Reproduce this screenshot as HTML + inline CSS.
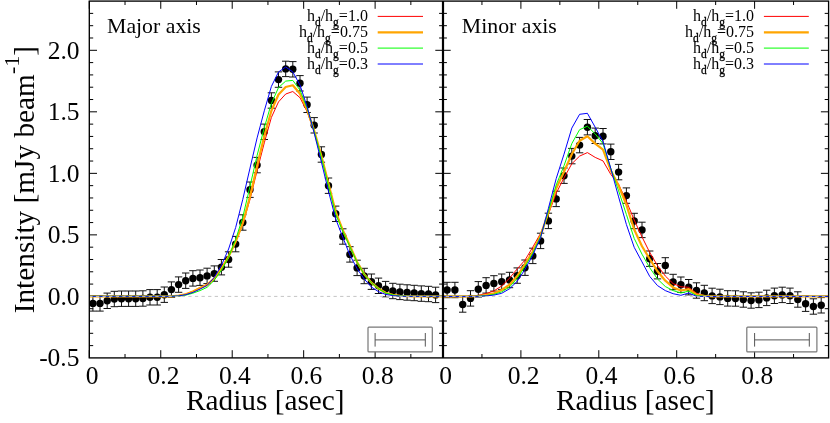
<!DOCTYPE html>
<html><head><meta charset="utf-8"><title>Intensity profiles</title>
<style>
html,body{margin:0;padding:0;background:#fff;}
body{width:830px;height:423px;overflow:hidden;font-family:"Liberation Serif",serif;}
svg{will-change:transform;opacity:0.999;}
svg text{font-family:"Liberation Serif",serif;}
</style></head><body>
<svg width="830" height="423" viewBox="0 0 830 423" style="display:block">
<rect x="0" y="0" width="830" height="423" fill="#ffffff"/>
<path d="M89.3 345.62h3.9M443.0 345.62h-3.9M443.0 345.62h3.9M828.6 345.62h-3.9M89.3 333.31h3.9M443.0 333.31h-3.9M443.0 333.31h3.9M828.6 333.31h-3.9M89.3 321.01h3.9M443.0 321.01h-3.9M443.0 321.01h3.9M828.6 321.01h-3.9M89.3 308.70h3.9M443.0 308.70h-3.9M443.0 308.70h3.9M828.6 308.70h-3.9M89.3 296.40h7.7M443.0 296.40h-7.7M443.0 296.40h7.7M828.6 296.40h-7.7M89.3 284.09h3.9M443.0 284.09h-3.9M443.0 284.09h3.9M828.6 284.09h-3.9M89.3 271.79h3.9M443.0 271.79h-3.9M443.0 271.79h3.9M828.6 271.79h-3.9M89.3 259.48h3.9M443.0 259.48h-3.9M443.0 259.48h3.9M828.6 259.48h-3.9M89.3 247.18h3.9M443.0 247.18h-3.9M443.0 247.18h3.9M828.6 247.18h-3.9M89.3 234.87h7.7M443.0 234.87h-7.7M443.0 234.87h7.7M828.6 234.87h-7.7M89.3 222.57h3.9M443.0 222.57h-3.9M443.0 222.57h3.9M828.6 222.57h-3.9M89.3 210.26h3.9M443.0 210.26h-3.9M443.0 210.26h3.9M828.6 210.26h-3.9M89.3 197.96h3.9M443.0 197.96h-3.9M443.0 197.96h3.9M828.6 197.96h-3.9M89.3 185.65h3.9M443.0 185.65h-3.9M443.0 185.65h3.9M828.6 185.65h-3.9M89.3 173.35h7.7M443.0 173.35h-7.7M443.0 173.35h7.7M828.6 173.35h-7.7M89.3 161.04h3.9M443.0 161.04h-3.9M443.0 161.04h3.9M828.6 161.04h-3.9M89.3 148.74h3.9M443.0 148.74h-3.9M443.0 148.74h3.9M828.6 148.74h-3.9M89.3 136.43h3.9M443.0 136.43h-3.9M443.0 136.43h3.9M828.6 136.43h-3.9M89.3 124.13h3.9M443.0 124.13h-3.9M443.0 124.13h3.9M828.6 124.13h-3.9M89.3 111.82h7.7M443.0 111.82h-7.7M443.0 111.82h7.7M828.6 111.82h-7.7M89.3 99.52h3.9M443.0 99.52h-3.9M443.0 99.52h3.9M828.6 99.52h-3.9M89.3 87.21h3.9M443.0 87.21h-3.9M443.0 87.21h3.9M828.6 87.21h-3.9M89.3 74.91h3.9M443.0 74.91h-3.9M443.0 74.91h3.9M828.6 74.91h-3.9M89.3 62.60h3.9M443.0 62.60h-3.9M443.0 62.60h3.9M828.6 62.60h-3.9M89.3 50.30h7.7M443.0 50.30h-7.7M443.0 50.30h7.7M828.6 50.30h-7.7M89.3 37.99h3.9M443.0 37.99h-3.9M443.0 37.99h3.9M828.6 37.99h-3.9M89.3 25.69h3.9M443.0 25.69h-3.9M443.0 25.69h3.9M828.6 25.69h-3.9M89.3 13.38h3.9M443.0 13.38h-3.9M443.0 13.38h3.9M828.6 13.38h-3.9M89.30 357.9v-7.7M89.30 1.1v7.7M443.00 357.9v-7.7M443.00 1.1v7.7M125.03 357.9v-3.9M125.03 1.1v3.9M481.95 357.9v-3.9M481.95 1.1v3.9M160.75 357.9v-7.7M160.75 1.1v7.7M520.90 357.9v-7.7M520.90 1.1v7.7M196.48 357.9v-3.9M196.48 1.1v3.9M559.85 357.9v-3.9M559.85 1.1v3.9M232.21 357.9v-7.7M232.21 1.1v7.7M598.80 357.9v-7.7M598.80 1.1v7.7M267.94 357.9v-3.9M267.94 1.1v3.9M637.75 357.9v-3.9M637.75 1.1v3.9M303.66 357.9v-7.7M303.66 1.1v7.7M676.70 357.9v-7.7M676.70 1.1v7.7M339.39 357.9v-3.9M339.39 1.1v3.9M715.65 357.9v-3.9M715.65 1.1v3.9M375.12 357.9v-7.7M375.12 1.1v7.7M754.60 357.9v-7.7M754.60 1.1v7.7M410.85 357.9v-3.9M410.85 1.1v3.9M793.55 357.9v-3.9M793.55 1.1v3.9" stroke="#000" stroke-width="1" fill="none"/>
<rect x="368.0" y="327.2" width="64.3" height="24.6" rx="0.9" fill="#fff" stroke="#777" stroke-width="1.2"/>
<path d="M375.1 339.9H425.3M375.1 333V346.6M425.3 333V346.6" stroke="#555" stroke-width="1" fill="none"/>
<rect x="746.8" y="327.2" width="70.1" height="24.6" rx="0.9" fill="#fff" stroke="#777" stroke-width="1.2"/>
<path d="M754.6 339.9H809.3M754.6 333V346.6M809.3 333V346.6" stroke="#555" stroke-width="1" fill="none"/>
<path d="M92.9 295.7V311.1M89.2 295.7h7.4M89.2 311.1h7.4M100.0 295.7V311.1M96.3 295.7h7.4M96.3 311.1h7.4M107.2 293.1V308.5M103.5 293.1h7.4M103.5 308.5h7.4M114.3 291.3V306.7M110.6 291.3h7.4M110.6 306.7h7.4M121.5 291.0V306.4M117.8 291.0h7.4M117.8 306.4h7.4M128.6 291.0V306.4M124.9 291.0h7.4M124.9 306.4h7.4M135.7 291.0V306.4M132.0 291.0h7.4M132.0 306.4h7.4M142.9 290.8V306.2M139.2 290.8h7.4M139.2 306.2h7.4M150.0 289.6V305.0M146.3 289.6h7.4M146.3 305.0h7.4M157.2 289.6V305.0M153.5 289.6h7.4M153.5 305.0h7.4M164.3 287.0V302.4M160.6 287.0h7.4M160.6 302.4h7.4M171.4 281.9V297.3M167.7 281.9h7.4M167.7 297.3h7.4M178.6 276.9V292.3M174.9 276.9h7.4M174.9 292.3h7.4M185.7 273.0V288.4M182.0 273.0h7.4M182.0 288.4h7.4M192.9 270.7V286.1M189.2 270.7h7.4M189.2 286.1h7.4M200.0 270.0V285.4M196.3 270.0h7.4M196.3 285.4h7.4M207.1 268.2V283.6M203.4 268.2h7.4M203.4 283.6h7.4M214.3 265.9V281.3M210.6 265.9h7.4M210.6 281.3h7.4M221.4 259.5V274.9M217.7 259.5h7.4M217.7 274.9h7.4M228.6 251.8V267.2M224.9 251.8h7.4M224.9 267.2h7.4M235.7 236.4V251.8M232.0 236.4h7.4M232.0 251.8h7.4M242.8 214.8V230.2M239.1 214.8h7.4M239.1 230.2h7.4M250.0 182.0V197.4M246.3 182.0h7.4M246.3 197.4h7.4M257.1 157.4V172.8M253.4 157.4h7.4M253.4 172.8h7.4M264.3 124.1V139.5M260.6 124.1h7.4M260.6 139.5h7.4M271.4 92.8V108.2M267.7 92.8h7.4M267.7 108.2h7.4M278.5 71.9V87.3M274.8 71.9h7.4M274.8 87.3h7.4M285.7 61.2V76.6M282.0 61.2h7.4M282.0 76.6h7.4M292.8 61.6V77.0M289.1 61.6h7.4M289.1 77.0h7.4M300.0 75.6V91.0M296.3 75.6h7.4M296.3 91.0h7.4M307.1 97.1V112.5M303.4 97.1h7.4M303.4 112.5h7.4M314.2 117.6V133.0M310.5 117.6h7.4M310.5 133.0h7.4M321.4 146.8V162.2M317.7 146.8h7.4M317.7 162.2h7.4M328.5 178.0V193.4M324.8 178.0h7.4M324.8 193.4h7.4M335.7 206.1V221.5M332.0 206.1h7.4M332.0 221.5h7.4M342.8 228.8V244.2M339.1 228.8h7.4M339.1 244.2h7.4M349.9 246.7V262.1M346.2 246.7h7.4M346.2 262.1h7.4M357.1 260.2V275.6M353.4 260.2h7.4M353.4 275.6h7.4M364.2 268.3V283.7M360.5 268.3h7.4M360.5 283.7h7.4M371.4 274.0V289.4M367.7 274.0h7.4M367.7 289.4h7.4M378.5 278.1V293.5M374.8 278.1h7.4M374.8 293.5h7.4M385.6 281.4V296.8M381.9 281.4h7.4M381.9 296.8h7.4M392.8 283.3V298.7M389.1 283.3h7.4M389.1 298.7h7.4M399.9 284.2V299.6M396.2 284.2h7.4M396.2 299.6h7.4M407.1 284.8V300.2M403.4 284.8h7.4M403.4 300.2h7.4M414.2 285.3V300.7M410.5 285.3h7.4M410.5 300.7h7.4M421.3 285.9V301.3M417.6 285.9h7.4M417.6 301.3h7.4M428.5 286.3V301.7M424.8 286.3h7.4M424.8 301.7h7.4M435.6 287.2V302.6M431.9 287.2h7.4M431.9 302.6h7.4M447.1 282.3V297.7M443.4 282.3h7.4M443.4 297.7h7.4M454.9 282.3V297.7M451.2 282.3h7.4M451.2 297.7h7.4M462.7 296.8V312.2M459.0 296.8h7.4M459.0 312.2h7.4M470.5 290.7V306.1M466.8 290.7h7.4M466.8 306.1h7.4M478.3 281.6V297.0M474.6 281.6h7.4M474.6 297.0h7.4M486.1 277.7V293.1M482.4 277.7h7.4M482.4 293.1h7.4M493.9 275.7V291.1M490.2 275.7h7.4M490.2 291.1h7.4M501.7 274.0V289.4M498.0 274.0h7.4M498.0 289.4h7.4M509.5 272.3V287.7M505.8 272.3h7.4M505.8 287.7h7.4M517.2 267.9V283.3M513.5 267.9h7.4M513.5 283.3h7.4M525.0 260.0V275.4M521.3 260.0h7.4M521.3 275.4h7.4M532.8 248.2V263.6M529.1 248.2h7.4M529.1 263.6h7.4M540.6 233.2V248.6M536.9 233.2h7.4M536.9 248.6h7.4M548.4 213.2V228.6M544.7 213.2h7.4M544.7 228.6h7.4M556.2 191.2V206.6M552.5 191.2h7.4M552.5 206.6h7.4M564.0 168.0V183.4M560.3 168.0h7.4M560.3 183.4h7.4M571.8 148.4V163.8M568.1 148.4h7.4M568.1 163.8h7.4M579.6 137.4V152.8M575.9 137.4h7.4M575.9 152.8h7.4M587.4 119.5V134.9M583.7 119.5h7.4M583.7 134.9h7.4M595.2 128.1V143.5M591.5 128.1h7.4M591.5 143.5h7.4M603.0 128.5V143.9M599.3 128.5h7.4M599.3 143.9h7.4M610.8 144.1V159.5M607.1 144.1h7.4M607.1 159.5h7.4M618.6 164.4V179.8M614.9 164.4h7.4M614.9 179.8h7.4M626.4 187.9V203.3M622.7 187.9h7.4M622.7 203.3h7.4M634.2 213.3V228.7M630.5 213.3h7.4M630.5 228.7h7.4M642.0 222.2V237.6M638.2 222.2h7.4M638.2 237.6h7.4M649.7 251.0V266.4M646.0 251.0h7.4M646.0 266.4h7.4M657.5 263.5V278.9M653.8 263.5h7.4M653.8 278.9h7.4M665.3 257.7V273.1M661.6 257.7h7.4M661.6 273.1h7.4M673.1 274.3V289.7M669.4 274.3h7.4M669.4 289.7h7.4M680.9 277.0V292.4M677.2 277.0h7.4M677.2 292.4h7.4M688.7 279.5V294.9M685.0 279.5h7.4M685.0 294.9h7.4M696.5 282.8V298.2M692.8 282.8h7.4M692.8 298.2h7.4M704.3 285.3V300.7M700.6 285.3h7.4M700.6 300.7h7.4M712.1 288.2V303.6M708.4 288.2h7.4M708.4 303.6h7.4M719.9 289.2V304.6M716.2 289.2h7.4M716.2 304.6h7.4M727.7 290.7V306.1M724.0 290.7h7.4M724.0 306.1h7.4M735.5 290.8V306.2M731.8 290.8h7.4M731.8 306.2h7.4M743.3 291.8V307.2M739.6 291.8h7.4M739.6 307.2h7.4M751.1 292.8V308.2M747.4 292.8h7.4M747.4 308.2h7.4M758.9 292.2V307.6M755.2 292.2h7.4M755.2 307.6h7.4M766.7 290.2V305.6M763.0 290.2h7.4M763.0 305.6h7.4M774.4 288.1V303.5M770.7 288.1h7.4M770.7 303.5h7.4M782.2 287.2V302.6M778.5 287.2h7.4M778.5 302.6h7.4M790.0 288.1V303.5M786.3 288.1h7.4M786.3 303.5h7.4M797.8 291.8V307.2M794.1 291.8h7.4M794.1 307.2h7.4M805.6 296.0V311.4M801.9 296.0h7.4M801.9 311.4h7.4M813.4 298.8V314.2M809.7 298.8h7.4M809.7 314.2h7.4M821.2 297.6V313.0M817.5 297.6h7.4M817.5 313.0h7.4" stroke="#111" stroke-width="1" fill="none"/>
<g fill="#000"><circle cx="92.9" cy="303.4" r="3.7"/><circle cx="100.0" cy="303.4" r="3.7"/><circle cx="107.2" cy="300.8" r="3.7"/><circle cx="114.3" cy="299.0" r="3.7"/><circle cx="121.5" cy="298.7" r="3.7"/><circle cx="128.6" cy="298.7" r="3.7"/><circle cx="135.7" cy="298.7" r="3.7"/><circle cx="142.9" cy="298.5" r="3.7"/><circle cx="150.0" cy="297.3" r="3.7"/><circle cx="157.2" cy="297.3" r="3.7"/><circle cx="164.3" cy="294.7" r="3.7"/><circle cx="171.4" cy="289.6" r="3.7"/><circle cx="178.6" cy="284.6" r="3.7"/><circle cx="185.7" cy="280.7" r="3.7"/><circle cx="192.9" cy="278.4" r="3.7"/><circle cx="200.0" cy="277.7" r="3.7"/><circle cx="207.1" cy="275.9" r="3.7"/><circle cx="214.3" cy="273.6" r="3.7"/><circle cx="221.4" cy="267.2" r="3.7"/><circle cx="228.6" cy="259.5" r="3.7"/><circle cx="235.7" cy="244.1" r="3.7"/><circle cx="242.8" cy="222.5" r="3.7"/><circle cx="250.0" cy="189.7" r="3.7"/><circle cx="257.1" cy="165.1" r="3.7"/><circle cx="264.3" cy="131.8" r="3.7"/><circle cx="271.4" cy="100.5" r="3.7"/><circle cx="278.5" cy="79.6" r="3.7"/><circle cx="285.7" cy="68.9" r="3.7"/><circle cx="292.8" cy="69.3" r="3.7"/><circle cx="300.0" cy="83.3" r="3.7"/><circle cx="307.1" cy="104.8" r="3.7"/><circle cx="314.2" cy="125.3" r="3.7"/><circle cx="321.4" cy="154.5" r="3.7"/><circle cx="328.5" cy="185.7" r="3.7"/><circle cx="335.7" cy="213.8" r="3.7"/><circle cx="342.8" cy="236.5" r="3.7"/><circle cx="349.9" cy="254.4" r="3.7"/><circle cx="357.1" cy="267.9" r="3.7"/><circle cx="364.2" cy="276.0" r="3.7"/><circle cx="371.4" cy="281.7" r="3.7"/><circle cx="378.5" cy="285.8" r="3.7"/><circle cx="385.6" cy="289.1" r="3.7"/><circle cx="392.8" cy="291.0" r="3.7"/><circle cx="399.9" cy="291.9" r="3.7"/><circle cx="407.1" cy="292.5" r="3.7"/><circle cx="414.2" cy="293.0" r="3.7"/><circle cx="421.3" cy="293.6" r="3.7"/><circle cx="428.5" cy="294.0" r="3.7"/><circle cx="435.6" cy="294.9" r="3.7"/><circle cx="447.1" cy="290.0" r="3.7"/><circle cx="454.9" cy="290.0" r="3.7"/><circle cx="462.7" cy="304.5" r="3.7"/><circle cx="470.5" cy="298.4" r="3.7"/><circle cx="478.3" cy="289.3" r="3.7"/><circle cx="486.1" cy="285.4" r="3.7"/><circle cx="493.9" cy="283.4" r="3.7"/><circle cx="501.7" cy="281.7" r="3.7"/><circle cx="509.5" cy="280.0" r="3.7"/><circle cx="517.2" cy="275.6" r="3.7"/><circle cx="525.0" cy="267.7" r="3.7"/><circle cx="532.8" cy="255.9" r="3.7"/><circle cx="540.6" cy="240.9" r="3.7"/><circle cx="548.4" cy="220.9" r="3.7"/><circle cx="556.2" cy="198.9" r="3.7"/><circle cx="564.0" cy="175.7" r="3.7"/><circle cx="571.8" cy="156.1" r="3.7"/><circle cx="579.6" cy="145.1" r="3.7"/><circle cx="587.4" cy="127.2" r="3.7"/><circle cx="595.2" cy="135.8" r="3.7"/><circle cx="603.0" cy="136.2" r="3.7"/><circle cx="610.8" cy="151.8" r="3.7"/><circle cx="618.6" cy="172.1" r="3.7"/><circle cx="626.4" cy="195.6" r="3.7"/><circle cx="634.2" cy="221.0" r="3.7"/><circle cx="642.0" cy="229.9" r="3.7"/><circle cx="649.7" cy="258.7" r="3.7"/><circle cx="657.5" cy="271.2" r="3.7"/><circle cx="665.3" cy="265.4" r="3.7"/><circle cx="673.1" cy="282.0" r="3.7"/><circle cx="680.9" cy="284.7" r="3.7"/><circle cx="688.7" cy="287.2" r="3.7"/><circle cx="696.5" cy="290.5" r="3.7"/><circle cx="704.3" cy="293.0" r="3.7"/><circle cx="712.1" cy="295.9" r="3.7"/><circle cx="719.9" cy="296.9" r="3.7"/><circle cx="727.7" cy="298.4" r="3.7"/><circle cx="735.5" cy="298.5" r="3.7"/><circle cx="743.3" cy="299.5" r="3.7"/><circle cx="751.1" cy="300.5" r="3.7"/><circle cx="758.9" cy="299.9" r="3.7"/><circle cx="766.7" cy="297.9" r="3.7"/><circle cx="774.4" cy="295.8" r="3.7"/><circle cx="782.2" cy="294.9" r="3.7"/><circle cx="790.0" cy="295.8" r="3.7"/><circle cx="797.8" cy="299.5" r="3.7"/><circle cx="805.6" cy="303.7" r="3.7"/><circle cx="813.4" cy="306.5" r="3.7"/><circle cx="821.2" cy="305.3" r="3.7"/></g>
<clipPath id="cl"><rect x="89.3" y="1.1" width="353.7" height="356.8"/></clipPath>
<clipPath id="cr"><rect x="443.0" y="1.1" width="385.6" height="356.8"/></clipPath>
<polyline clip-path="url(#cl)" points="89.3,296.3 92.9,296.3 100.0,296.3 107.2,296.3 114.3,296.3 121.5,296.3 128.6,296.3 135.7,296.3 142.9,296.3 150.0,296.3 157.2,296.3 164.3,296.3 171.4,296.3 178.6,295.6 185.7,294.1 192.9,291.3 200.0,287.5 207.1,284.3 214.3,277.8 221.4,267.9 228.6,256.1 235.7,241.7 242.8,224.2 250.0,199.3 257.1,170.7 264.3,142.8 271.4,117.4 278.5,101.9 285.7,94.0 292.8,91.5 300.0,97.7 307.1,111.7 314.2,131.3 321.4,155.8 328.5,183.8 335.7,212.0 342.8,230.1 349.9,245.8 357.1,262.0 364.2,274.1 371.4,282.6 378.5,288.5 385.6,292.7 392.8,294.8 399.9,295.9 407.1,296.2 414.2,296.3 421.3,296.3 428.5,296.3 435.6,296.3 443.0,296.3" fill="none" stroke="#ff0000" stroke-width="1.0" stroke-linejoin="round"/>
<polyline clip-path="url(#cr)" points="443.0,296.4 447.1,296.4 454.9,296.4 462.7,296.4 470.5,296.3 478.3,295.3 486.1,293.6 493.9,290.9 501.7,286.0 509.5,278.2 517.2,268.9 525.0,260.1 532.8,247.1 540.6,233.3 548.4,214.2 556.2,193.2 564.0,177.9 571.8,163.8 579.6,156.1 587.4,152.6 595.2,157.4 603.0,160.9 610.8,174.4 618.6,184.3 626.4,201.1 634.2,220.0 642.0,236.9 649.7,252.4 657.5,265.6 665.3,276.0 673.1,283.6 680.9,286.8 688.7,287.3 696.5,293.2 704.3,295.9 712.1,296.4 719.9,296.4 727.7,296.4 735.5,296.4 743.3,296.4 751.1,296.4 758.9,296.4 766.7,296.4 774.4,296.4 782.2,296.4 790.0,296.4 797.8,296.4 805.6,296.4 813.4,296.4 821.2,296.4 828.6,296.4" fill="none" stroke="#ff0000" stroke-width="1.0" stroke-linejoin="round"/>
<polyline clip-path="url(#cl)" points="89.3,296.3 92.9,296.3 100.0,296.3 107.2,296.3 114.3,296.3 121.5,296.3 128.6,296.3 135.7,296.3 142.9,296.3 150.0,296.3 157.2,296.3 164.3,296.3 171.4,296.3 178.6,295.7 185.7,294.3 192.9,291.6 200.0,288.1 207.1,284.9 214.3,278.6 221.4,268.9 228.6,256.6 235.7,241.7 242.8,223.2 250.0,196.5 257.1,166.1 264.3,136.1 271.4,110.7 278.5,94.5 285.7,87.0 292.8,85.3 300.0,93.8 307.1,109.5 314.2,130.7 321.4,156.1 328.5,183.8 335.7,212.0 342.8,230.1 349.9,245.8 357.1,262.0 364.2,274.1 371.4,282.6 378.5,288.5 385.6,292.7 392.8,294.8 399.9,295.9 407.1,296.2 414.2,296.3 421.3,296.3 428.5,296.3 435.6,296.3 443.0,296.3" fill="none" stroke="#ffa500" stroke-width="2.2" stroke-linejoin="round"/>
<polyline clip-path="url(#cr)" points="443.0,296.4 447.1,296.4 454.9,296.4 462.7,296.4 470.5,296.4 478.3,296.0 486.1,295.1 493.9,293.3 501.7,290.0 509.5,284.7 517.2,276.1 525.0,264.2 532.8,251.6 540.6,235.4 548.4,212.5 556.2,188.5 564.0,171.7 571.8,154.2 579.6,140.7 587.4,136.2 595.2,143.6 603.0,149.7 610.8,170.4 618.6,185.6 626.4,204.9 634.2,229.5 642.0,246.2 649.7,259.0 657.5,271.3 665.3,280.7 673.1,287.4 680.9,290.5 688.7,289.2 696.5,294.7 704.3,295.9 712.1,296.4 719.9,296.4 727.7,296.4 735.5,296.4 743.3,296.4 751.1,296.4 758.9,296.4 766.7,296.4 774.4,296.4 782.2,296.4 790.0,296.4 797.8,296.4 805.6,296.4 813.4,296.4 821.2,296.4 828.6,296.4" fill="none" stroke="#ffa500" stroke-width="2.2" stroke-linejoin="round"/>
<polyline clip-path="url(#cl)" points="89.3,296.3 92.9,296.3 100.0,296.3 107.2,296.3 114.3,296.3 121.5,296.3 128.6,296.3 135.7,296.3 142.9,296.3 150.0,296.3 157.2,296.3 164.3,296.3 171.4,296.3 178.6,296.0 185.7,295.1 192.9,293.2 200.0,290.6 207.1,287.3 214.3,280.2 221.4,270.2 228.6,257.1 235.7,239.5 242.8,217.0 250.0,186.3 257.1,155.4 264.3,127.6 271.4,103.4 278.5,87.6 285.7,81.1 292.8,80.4 300.0,90.1 307.1,108.2 314.2,131.3 321.4,157.7 328.5,185.8 335.7,214.1 342.8,231.2 349.9,246.7 357.1,262.3 364.2,274.3 371.4,282.8 378.5,288.7 385.6,293.0 392.8,294.9 399.9,296.0 407.1,296.2 414.2,296.3 421.3,296.3 428.5,296.3 435.6,296.3 443.0,296.3" fill="none" stroke="#00ff00" stroke-width="1.0" stroke-linejoin="round"/>
<polyline clip-path="url(#cr)" points="443.0,296.4 447.1,296.4 454.9,296.4 462.7,296.4 470.5,296.4 478.3,296.2 486.1,295.6 493.9,294.4 501.7,291.9 509.5,287.0 517.2,278.3 525.0,266.6 532.8,253.2 540.6,236.4 548.4,211.2 556.2,185.0 564.0,165.7 571.8,143.6 579.6,129.7 587.4,126.2 595.2,133.9 603.0,143.6 610.8,168.5 618.6,190.8 626.4,214.5 634.2,238.4 642.0,254.2 649.7,267.7 657.5,279.0 665.3,286.5 673.1,290.6 680.9,293.0 688.7,291.1 696.5,295.6 704.3,296.3 712.1,296.4 719.9,296.4 727.7,296.4 735.5,296.4 743.3,296.4 751.1,296.4 758.9,296.4 766.7,296.4 774.4,296.4 782.2,296.4 790.0,296.4 797.8,296.4 805.6,296.4 813.4,296.4 821.2,296.4 828.6,296.4" fill="none" stroke="#00ff00" stroke-width="1.0" stroke-linejoin="round"/>
<polyline clip-path="url(#cl)" points="89.3,296.3 92.9,296.3 100.0,296.3 107.2,296.3 114.3,296.3 121.5,296.3 128.6,296.3 135.7,296.3 142.9,296.3 150.0,296.3 157.2,296.3 164.3,296.3 171.4,296.3 178.6,295.9 185.7,294.7 192.9,292.4 200.0,289.1 207.1,285.4 214.3,277.4 221.4,265.4 228.6,249.0 235.7,227.4 242.8,199.3 250.0,168.1 257.1,137.9 264.3,110.8 271.4,86.4 278.5,72.0 285.7,67.0 292.8,71.9 300.0,85.1 307.1,106.7 314.2,133.0 321.4,162.1 328.5,191.4 335.7,218.9 342.8,237.3 349.9,255.1 357.1,268.7 364.2,279.0 371.4,287.0 378.5,291.7 385.6,294.4 392.8,295.6 399.9,296.2 407.1,296.3 414.2,296.3 421.3,296.3 428.5,296.3 435.6,296.3 443.0,296.3" fill="none" stroke="#0000ff" stroke-width="1.0" stroke-linejoin="round"/>
<polyline clip-path="url(#cr)" points="443.0,296.4 447.1,296.4 454.9,296.4 462.7,296.4 470.5,296.4 478.3,296.3 486.1,295.9 493.9,295.1 501.7,293.3 509.5,288.8 517.2,281.3 525.0,269.3 532.8,255.1 540.6,237.5 548.4,208.4 556.2,178.6 564.0,154.2 571.8,128.1 579.6,114.3 587.4,113.3 595.2,127.2 603.0,141.6 610.8,168.5 618.6,196.9 626.4,224.5 634.2,247.3 642.0,261.9 649.7,276.4 657.5,285.6 665.3,290.6 673.1,293.7 680.9,295.3 688.7,293.0 696.5,296.3 704.3,296.4 712.1,296.4 719.9,296.4 727.7,296.4 735.5,296.4 743.3,296.4 751.1,296.4 758.9,296.4 766.7,296.4 774.4,296.4 782.2,296.4 790.0,296.4 797.8,296.4 805.6,296.4 813.4,296.4 821.2,296.4 828.6,296.4" fill="none" stroke="#0000ff" stroke-width="1.0" stroke-linejoin="round"/>
<path d="M89.3 296.4H828.6" stroke="#c4c4c4" stroke-width="1" stroke-dasharray="3.3 3.3" fill="none"/>
<rect x="89.3" y="1.1" width="739.3" height="356.8" fill="none" stroke="#000" stroke-width="1.35"/>
<path d="M443.0 1.1V357.9" stroke="#000" stroke-width="2.2" fill="none"/>
<g font-family="Liberation Serif, serif" fill="#000" opacity="0.99">
<text x="79.5" y="58.8" font-size="25.5" text-anchor="end">2.0</text>
<text x="79.5" y="120.3" font-size="25.5" text-anchor="end">1.5</text>
<text x="79.5" y="181.8" font-size="25.5" text-anchor="end">1.0</text>
<text x="79.5" y="243.4" font-size="25.5" text-anchor="end">0.5</text>
<text x="79.5" y="304.9" font-size="25.5" text-anchor="end">0.0</text>
<text x="79.5" y="366.4" font-size="25.5" text-anchor="end">-0.5</text>
<text x="92.0" y="383.5" font-size="25.5" text-anchor="middle">0</text>
<text x="163.5" y="383.5" font-size="25.5" text-anchor="middle">0.2</text>
<text x="234.9" y="383.5" font-size="25.5" text-anchor="middle">0.4</text>
<text x="306.4" y="383.5" font-size="25.5" text-anchor="middle">0.6</text>
<text x="377.8" y="383.5" font-size="25.5" text-anchor="middle">0.8</text>
<text x="445.7" y="383.5" font-size="25.5" text-anchor="middle">0</text>
<text x="523.6" y="383.5" font-size="25.5" text-anchor="middle">0.2</text>
<text x="601.5" y="383.5" font-size="25.5" text-anchor="middle">0.4</text>
<text x="679.4" y="383.5" font-size="25.5" text-anchor="middle">0.6</text>
<text x="757.3" y="383.5" font-size="25.5" text-anchor="middle">0.8</text>
<text x="265.3" y="409.7" font-size="29.3" text-anchor="middle">Radius [asec]</text>
<text x="635.4" y="409.7" font-size="29.3" text-anchor="middle">Radius [asec]</text>
<text transform="translate(34.1 313.3) rotate(-90)" font-size="29.3">Intensity [mJy beam<tspan dy="-14.8" font-size="22">-1</tspan><tspan dy="14.8">]</tspan></text>
<text x="107.0" y="32.5" font-size="21.8">Major axis</text>
<text x="461.8" y="32.5" font-size="21.8">Minor axis</text>
<text x="367.9" y="20.9" font-size="16" text-anchor="end">h<tspan dy="5" font-size="11.5" stroke="#000" stroke-width="0.3">d</tspan><tspan dy="-5">/h</tspan><tspan dy="5" font-size="11.5" stroke="#000" stroke-width="0.3">g</tspan><tspan dy="-5">=1.0</tspan></text>
<text x="367.9" y="36.8" font-size="16" text-anchor="end">h<tspan dy="5" font-size="11.5" stroke="#000" stroke-width="0.3">d</tspan><tspan dy="-5">/h</tspan><tspan dy="5" font-size="11.5" stroke="#000" stroke-width="0.3">g</tspan><tspan dy="-5">=0.75</tspan></text>
<text x="367.9" y="52.6" font-size="16" text-anchor="end">h<tspan dy="5" font-size="11.5" stroke="#000" stroke-width="0.3">d</tspan><tspan dy="-5">/h</tspan><tspan dy="5" font-size="11.5" stroke="#000" stroke-width="0.3">g</tspan><tspan dy="-5">=0.5</tspan></text>
<text x="367.9" y="68.5" font-size="16" text-anchor="end">h<tspan dy="5" font-size="11.5" stroke="#000" stroke-width="0.3">d</tspan><tspan dy="-5">/h</tspan><tspan dy="5" font-size="11.5" stroke="#000" stroke-width="0.3">g</tspan><tspan dy="-5">=0.3</tspan></text>
<text x="754.0" y="20.9" font-size="16" text-anchor="end">h<tspan dy="5" font-size="11.5" stroke="#000" stroke-width="0.3">d</tspan><tspan dy="-5">/h</tspan><tspan dy="5" font-size="11.5" stroke="#000" stroke-width="0.3">g</tspan><tspan dy="-5">=1.0</tspan></text>
<text x="754.0" y="36.8" font-size="16" text-anchor="end">h<tspan dy="5" font-size="11.5" stroke="#000" stroke-width="0.3">d</tspan><tspan dy="-5">/h</tspan><tspan dy="5" font-size="11.5" stroke="#000" stroke-width="0.3">g</tspan><tspan dy="-5">=0.75</tspan></text>
<text x="754.0" y="52.6" font-size="16" text-anchor="end">h<tspan dy="5" font-size="11.5" stroke="#000" stroke-width="0.3">d</tspan><tspan dy="-5">/h</tspan><tspan dy="5" font-size="11.5" stroke="#000" stroke-width="0.3">g</tspan><tspan dy="-5">=0.5</tspan></text>
<text x="754.0" y="68.5" font-size="16" text-anchor="end">h<tspan dy="5" font-size="11.5" stroke="#000" stroke-width="0.3">d</tspan><tspan dy="-5">/h</tspan><tspan dy="5" font-size="11.5" stroke="#000" stroke-width="0.3">g</tspan><tspan dy="-5">=0.3</tspan></text>
</g>
<path d="M377.7 16.4H423.0" stroke="#ff0000" stroke-width="1.0" fill="none"/>
<path d="M377.7 32.3H423.0" stroke="#ffa500" stroke-width="2.2" fill="none"/>
<path d="M377.7 48.1H423.0" stroke="#00ff00" stroke-width="1.0" fill="none"/>
<path d="M377.7 64.0H423.0" stroke="#0000ff" stroke-width="1.0" fill="none"/>
<path d="M763.9 16.4H808.8" stroke="#ff0000" stroke-width="1.0" fill="none"/>
<path d="M763.9 32.3H808.8" stroke="#ffa500" stroke-width="2.2" fill="none"/>
<path d="M763.9 48.1H808.8" stroke="#00ff00" stroke-width="1.0" fill="none"/>
<path d="M763.9 64.0H808.8" stroke="#0000ff" stroke-width="1.0" fill="none"/>
</svg>
</body></html>
